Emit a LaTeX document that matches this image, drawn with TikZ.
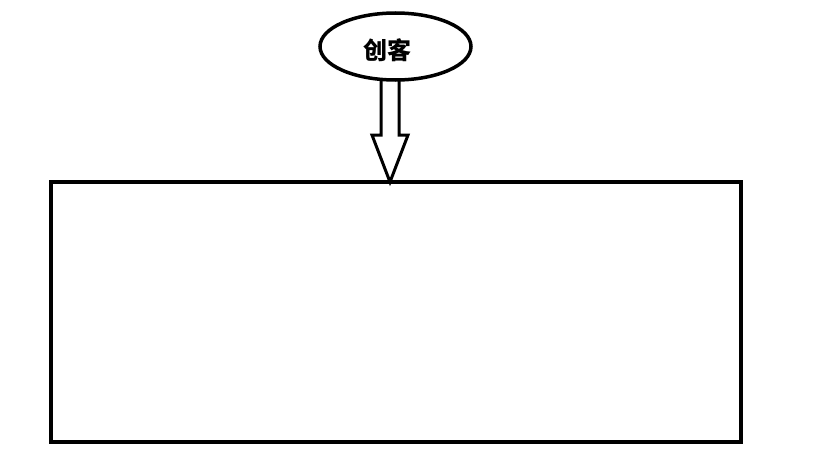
\documentclass[tikz,border=0pt]{standalone}
\usepackage{fontspec}
\newfontfamily\cjk{Noto Sans CJK SC}
\usetikzlibrary{calc,shapes.geometric}
\begin{document}
\begin{tikzpicture}[x=1pt,y=-1pt, line join=miter, font=\cjk\bfseries\fontsize{24}{26}\selectfont]
        \tikzset{
            rand/.style={draw, line width=3.5pt, outer sep=0pt},
            blockarrow/.style={draw, line width=3pt, fill=white}
        }
        \useasboundingbox (0,0) rectangle (819,460);
        %\draw[gray!30] (0,0) grid[step=50] (819,460);
        \node[rand, minimum width=690pt, minimum height=260pt] (kuang) at (396,312) {};
        \coordinate (tip) at ($(kuang.north)+(-6,0)$);
        \draw[blockarrow] (tip) -- ++(-18,-47) -- ++(9,0) -- ++(0,-90) -- ++(18,0) -- ++(0,90) -- ++(9,0) -- cycle;
        \node[rand, ellipse, fill=white, minimum width=151pt, minimum height=67pt, inner sep=0pt] (chuangke) at (395.5,46.5) {\raisebox{-13pt}[0pt][0pt]{创客}\kern17pt};
\end{tikzpicture}
\end{document}
